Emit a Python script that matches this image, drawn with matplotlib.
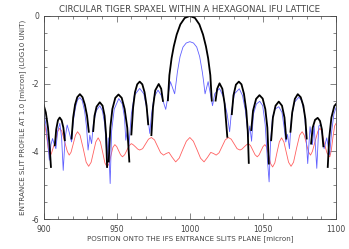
import numpy as np
import matplotlib
matplotlib.use("Agg")
import matplotlib.pyplot as plt
from matplotlib.ticker import MultipleLocator

plt.rcParams['axes.unicode_minus'] = False
plt.rcParams['font.family'] = 'DejaVu Sans'

# black: circular spaxel profile, drawn as separate lobes (nan = gap)
black_x = [900, 901.5, 903, 904.2, 905, np.nan,
           907.7, 908.6, 909.8, 911, 912.3, 913.5, 914.5, np.nan,
           919.1, 920.2, 921.5, 923, 924.8, 926.6, 928.2, 929.7, 930.9, np.nan,
           933.9, 934.8, 936.2, 938.4, 940.3, 941.7, 942.7, 943.4, np.nan,
           944.5, 945.6, 947, 949, 951.2, 953.4, 955.4, 957.2, 958.6, np.nan,
           960, 961.2, 962.5, 964, 965.7, 967.5, 969, 970.4, 971.5, np.nan,
           973.7, 974.8, 976.3, 978.7, 980.4, 981.6, np.nan,
           985, 986, 987.5, 989, 991, 993.5, 996.5, 1000,
           1003.5, 1006.5, 1009, 1011, 1012.5, 1014, 1015, np.nan,
           1017.6, 1018.7, 1020.3, 1022.2, 1023.8, 1025.6, np.nan,
           1028.7, 1029.8, 1031.5, 1033.5, 1035.3, 1037, 1038.6, 1039.6, 1040.3, np.nan,
           1042, 1043.2, 1045.3, 1047.6, 1049.8, 1051.6, 1053, 1054, np.nan,
           1055.6, 1056.8, 1058.6, 1060.8, 1063, 1064.7, 1065.9, np.nan,
           1068.8, 1070, 1071.8, 1073.8, 1075.8, 1077.6, 1079, 1079.9, np.nan,
           1082.9, 1084, 1085.6, 1087.4, 1089, 1090.3, 1091.3, np.nan,
           1094.3, 1095.3, 1096.8, 1098.8, 1100]
black_y = [-2.63, -2.85, -3.3, -3.9, -4.46, np.nan,
           -3.82, -3.35, -3.08, -3.0, -3.08, -3.3, -3.67, np.nan,
           -3.62, -3.0, -2.62, -2.40, -2.31, -2.40, -2.62, -2.95, -3.42, np.nan,
           -3.4, -2.95, -2.68, -2.55, -2.65, -2.95, -3.5, -4.46, np.nan,
           -4.3, -3.3, -2.75, -2.42, -2.32, -2.42, -2.75, -3.3, -4.3, np.nan,
           -3.5, -2.7, -2.25, -2.02, -1.94, -2.02, -2.25, -2.65, -3.2, np.nan,
           -3.52, -2.7, -2.2, -2.01, -2.15, -2.51, np.nan,
           -2.49, -1.75, -1.25, -0.9, -0.55, -0.25, -0.06, 0.0,
           -0.06, -0.25, -0.55, -0.9, -1.25, -1.75, -2.5, np.nan,
           -2.5, -2.15, -1.99, -2.15, -2.6, -3.57, np.nan,
           -2.9, -2.35, -2.03, -1.94, -2.02, -2.3, -2.8, -3.4, -4.34, np.nan,
           -3.37, -2.8, -2.45, -2.34, -2.44, -2.75, -3.3, -4.36, np.nan,
           -3.67, -3.0, -2.65, -2.53, -2.65, -3.0, -3.62, np.nan,
           -3.42, -2.85, -2.45, -2.31, -2.4, -2.65, -3.05, -3.62, np.nan,
           -3.77, -3.3, -3.07, -3.01, -3.1, -3.35, -3.85, np.nan,
           -4.46, -3.6, -3.0, -2.66, -2.6]

# blue: hexagonal lattice profile
blue_x = [900, 901.5, 903, 903.9, 905, 906.1, 907.3, 908.4, 909.6, 911.1, 912.3, 913.4,
          914.7, 916.1, 917.6, 919.1, 920.3, 921.8, 923.2, 924.8, 926.4, 928, 929.4, 930.4,
          931.6, 932.8, 934, 936, 938.4, 940.2, 941.8, 943.4, 944.2, 945.5, 946.5, 948.3,
          951.4, 953.8, 955.3, 956.2, 957.3, 958.2, 960, 962, 965.7, 968.5, 970.8, 972.6,
          973.8, 975.5, 978.2, 980.5, 983.5, 986.7, 989.6, 990.8, 991.5, 993.3, 995.3, 997.5,
          1000, 1002.5, 1004.7, 1006.7, 1008.5, 1009.3, 1010.4, 1012.5, 1015.5, 1017, 1020.3,
          1023, 1025.5, 1027.2, 1028.5, 1030.5, 1033.8, 1036, 1038, 1039.9, 1041, 1042.2,
          1043.5, 1045.5, 1047.8, 1049.8, 1051.5, 1052.9, 1054.2, 1055.2, 1056.5, 1058.3,
          1060.8, 1063, 1064.5, 1065.6, 1066.8, 1068.1, 1069.5, 1071.5, 1074.5, 1076.5,
          1078.5, 1080.6, 1082.2, 1083.8, 1085, 1086.8, 1088.2, 1089.6, 1091.8, 1093.6,
          1095.6, 1097, 1098.5, 1100]
blue_y = [-2.83, -3.2, -3.8, -4.26, -3.8, -3.62, -3.8, -3.92, -3.4, -3.17, -3.6, -4.56,
          -3.6, -3.22, -3.45, -3.72, -3.1, -2.7, -2.48, -2.41, -2.5, -2.8, -3.3, -3.96,
          -3.52, -3.77, -3.2, -2.8, -2.65, -2.8, -3.2, -4.26, -3.6, -4.95, -3.4, -2.75,
          -2.44, -2.6, -3.0, -3.67, -3.37, -3.9, -2.9, -2.35, -2.14, -2.3, -2.8, -3.47,
          -2.9, -2.4, -2.19, -2.35, -2.76, -1.94, -2.3, -1.9, -1.65, -1.2, -0.92, -0.8,
          -0.76, -0.8, -0.92, -1.2, -1.65, -1.9, -2.3, -1.94, -2.65, -2.3, -2.14,
          -2.4, -2.9, -3.42, -2.8, -2.3, -2.15, -2.35, -2.8, -3.57, -3.25, -3.7,
          -2.9, -2.6, -2.52, -2.65, -3.2, -4.16, -4.9, -3.7, -3.0, -2.75,
          -2.68, -2.85, -3.3, -3.72, -3.5, -3.92, -3.0, -2.55, -2.4, -2.5,
          -2.9, -4.36, -3.27, -3.8, -3.25, -4.5, -3.25, -3.2, -3.92, -3.6,
          -4.1, -3.4, -2.9, -2.7]

# red: residual / difference profile
red_x = [900, 901, 902.2, 903.3, 904.3, 905.4, 907.6, 909.8, 911, 912.4, 914.3, 916.2,
         917.5, 918.8, 920.3, 921.8, 923.2, 924.9, 927, 929.1, 930.8, 932.5, 934.1, 935.7,
         937.3, 938.8, 940.4, 941.9, 943.4, 944.8, 946.1, 947.4, 948.7, 950, 951.3, 952.6,
         953.9, 955.4, 957, 958.5, 960, 961.4, 962.9, 964.3, 965.7, 967.7, 969.7, 971.7,
         973.7, 975.8, 977.9, 980, 982, 983.9, 985.7, 988, 990.3, 992.7, 995.1, 997.6,
         1000, 1002.4, 1004.9, 1007.3, 1009.7, 1012, 1014.3, 1016.1, 1018, 1020, 1022.1,
         1024.2, 1026.3, 1028.3, 1030.3, 1032.3, 1034.3, 1035.7, 1037.1, 1038.6, 1040,
         1041.5, 1043, 1044.6, 1046.1, 1047.4, 1048.7, 1050, 1051.3, 1052.6, 1053.9,
         1055.2, 1056.6, 1058.1, 1059.6, 1061.2, 1062.7, 1064.3, 1065.9, 1067.5, 1069.2,
         1070.9, 1073, 1075.1, 1076.8, 1078.2, 1079.7, 1081.2, 1082.5, 1083.8, 1085.7,
         1087.6, 1089, 1090.2, 1091.8, 1093.8, 1095.7, 1096.7, 1097.8, 1099, 1100]
red_y = [-3.17, -3.25, -3.6, -3.98, -4.16, -4.05, -3.74, -3.40, -3.32, -3.40, -3.70, -4.00,
         -4.11, -4.02, -3.77, -3.52, -3.42, -3.52, -3.90, -4.32, -4.44, -4.32, -4.02, -3.72,
         -3.60, -3.72, -4.03, -4.34, -4.46, -4.36, -4.11, -3.88, -3.80, -3.86, -3.98, -4.10,
         -4.16, -4.10, -3.96, -3.83, -3.77, -3.81, -3.87, -3.93, -3.96, -3.92, -3.78, -3.64,
         -3.59, -3.66, -3.85, -4.04, -4.11, -4.06, -4.03, -4.18, -4.31, -4.20, -3.95, -3.70,
         -3.59, -3.70, -3.95, -4.20, -4.31, -4.18, -4.03, -4.06, -4.11, -4.04, -3.85,
         -3.66, -3.59, -3.64, -3.78, -3.92, -3.96, -3.93, -3.87, -3.81, -3.77,
         -3.83, -3.96, -4.10, -4.16, -4.10, -3.98, -3.86, -3.80, -3.88, -4.11,
         -4.36, -4.46, -4.34, -4.03, -3.72, -3.60, -3.72, -4.02, -4.32, -4.44,
         -4.32, -3.90, -3.52, -3.42, -3.52, -3.77, -4.02, -4.11, -4.00, -3.70,
         -3.40, -3.32, -3.40, -3.74, -4.05, -4.16, -3.98, -3.6, -3.25, -3.17]

fig = plt.figure(figsize=(3.49, 2.49), dpi=100)
ax = fig.add_axes([0.125, 0.12, 0.838, 0.816])

ax.plot(red_x, red_y, color='#ff6060', lw=0.6)
ax.plot(blue_x, blue_y, color='#6060ff', lw=0.6)
ax.plot(black_x, black_y, color='black', lw=1.3)

ax.set_xlim(900, 1100)
ax.set_ylim(-6, 0)
ax.set_xticks([900, 950, 1000, 1050, 1100])
ax.set_yticks([0, -2, -4, -6])
ax.xaxis.set_minor_locator(MultipleLocator(10))
ax.yaxis.set_minor_locator(MultipleLocator(0.5))
ax.tick_params(which='both', direction='in', top=True, right=True, width=0.5,
               color='#555555', labelsize=5.5, labelcolor='#444444')
ax.tick_params(axis='x', pad=4)
ax.tick_params(axis='y', pad=3)
ax.tick_params(which='major', length=4)
ax.tick_params(which='minor', length=2)
for s in ax.spines.values():
    s.set_linewidth(0.6)
    s.set_color('#444444')

ax.set_title('CIRCULAR TIGER SPAXEL WITHIN A HEXAGONAL IFU LATTICE',
             fontsize=6.2, color='#444444', pad=3)
ax.set_xlabel('POSITION ONTO THE IFS ENTRANCE SLITS PLANE [micron]',
              fontsize=5.1, color='#444444', labelpad=1)
ax.set_ylabel('ENTRANCE SLIT PROFILE AT 1.0 [micron] (LOG10 UNIT)',
              fontsize=5.1, color='#444444', labelpad=4)

fig.savefig('out.png', dpi=100)
